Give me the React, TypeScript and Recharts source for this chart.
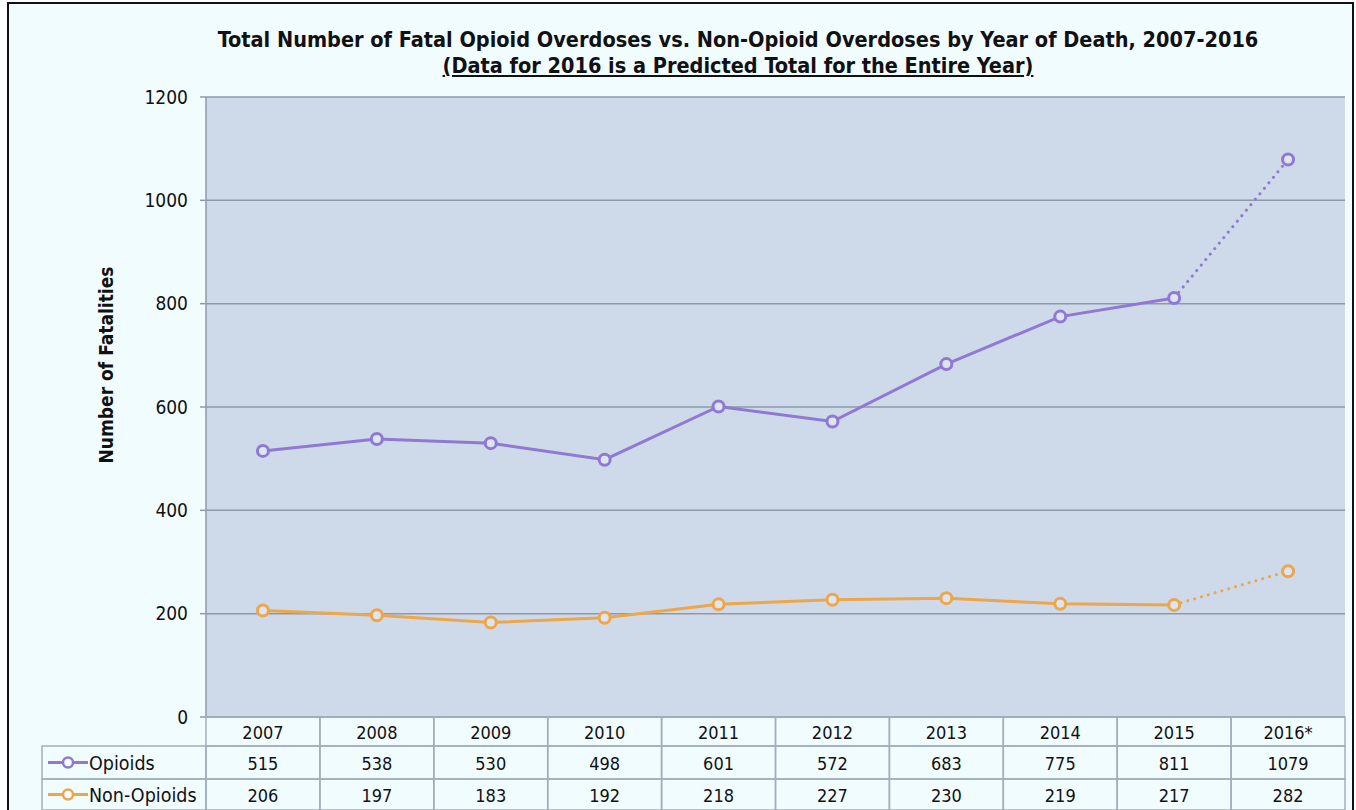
import React from 'react';
import { LineChart, Line, XAxis, YAxis, CartesianGrid } from 'recharts';

const YEARS = ['2007', '2008', '2009', '2010', '2011', '2012', '2013', '2014', '2015', '2016*'];
const OPIOIDS = [515, 538, 530, 498, 601, 572, 683, 775, 811, 1079];
const NON_OPIOIDS = [206, 197, 183, 192, 218, 227, 230, 219, 217, 282];
const Y_TICKS = [0, 200, 400, 600, 800, 1000, 1200];
const LAST_ACTUAL = 8; // 2015, 2016 is predicted

const W = 1356;
const H = 810;
const PLOT_LEFT = 206;
const PLOT_RIGHT = 1345;
const BW = (PLOT_RIGHT - PLOT_LEFT) / YEARS.length;
const LEGEND_W = 164;

const FONT = "Tahoma, 'DejaVu Sans Condensed', 'DejaVu Sans', sans-serif";
const PURPLE = '#9079D2';
const ORANGE = '#EDA64A';
const GRID = '#8E99AA';
const CELL = '#A3ADBC';
const PLOT_BG = '#CEDAEA';
const FRAME_BG = '#F1FCFF';
const TXT = 18;

const data = YEARS.map((year, i) => ({
  year,
  op: i <= LAST_ACTUAL ? OPIOIDS[i] : null,
  opPred: i >= LAST_ACTUAL ? OPIOIDS[i] : null,
  non: i <= LAST_ACTUAL ? NON_OPIOIDS[i] : null,
  nonPred: i >= LAST_ACTUAL ? NON_OPIOIDS[i] : null,
}));

// one row of the data table under the plot, drawn as axis ticks
const TableTick = (props: any) => {
  const { x, y, payload, index, values, rowH, legend, color } = props;
  const left = x - BW / 2;
  const label = values ? values[index] : payload.value;
  return (
    <g>
      <rect x={left} y={y} width={BW} height={rowH} fill="none" stroke={CELL} strokeWidth={1.5} />
      <text x={x} y={y + rowH / 2 + 1} textAnchor="middle" dominantBaseline="central"
        fontSize={TXT} fontFamily={FONT} fill="#111">{label}</text>
      {index === 0 && legend && (
        <g>
          <rect x={left - LEGEND_W} y={y} width={LEGEND_W} height={rowH} fill="none" stroke={CELL} strokeWidth={1.5} />
          <line x1={left - LEGEND_W + 6} x2={left - LEGEND_W + 46} y1={y + rowH / 2} y2={y + rowH / 2}
            stroke={color} strokeWidth={3} />
          <circle cx={left - LEGEND_W + 26} cy={y + rowH / 2} r={5} fill={FRAME_BG} stroke={color} strokeWidth={2.5} />
          <text x={left - LEGEND_W + 47} y={y + rowH / 2 + 1} dominantBaseline="central"
            fontSize={19.5} fontFamily={FONT} fill="#111">{legend}</text>
        </g>
      )}
    </g>
  );
};

const hollowDot = (color: string, only?: number) => (p: any) => {
  if (p.value == null || (only !== undefined && p.index !== only)) return <g key={p.index} />;
  return <circle key={p.index} cx={p.cx} cy={p.cy} r={5.5} fill="#DCE5F1" stroke={color} strokeWidth={3} />;
};

const YLabel = (props: any) => {
  const vb = props.viewBox;
  const cx = vb.x + 106;
  const cy = vb.y + vb.height / 2 - 42;
  return (
    <text x={cx} y={cy} transform={`rotate(-90 ${cx} ${cy})`} textAnchor="middle" dominantBaseline="central"
      fontSize={19} fontWeight="bold" fontFamily={FONT} fill="#111">Number of Fatalities</text>
  );
};

export default function App() {
  return (
    <div style={{ position: 'absolute', left: 0, top: 0, width: W, height: H, overflow: 'hidden', background: '#fff' }}>
      <div style={{ position: 'absolute', left: 7, top: 2, width: 1343, height: 840, border: '2px solid #111', background: FRAME_BG }} />
      <div style={{ position: 'absolute', left: 0, top: 27, width: 1476, textAlign: 'center', fontFamily: FONT, fontWeight: 'bold', fontSize: 21.5, lineHeight: '26px', color: '#111' }}>
        Total Number of Fatal Opioid Overdoses vs. Non-Opioid Overdoses by Year of Death, 2007-2016
      </div>
      <div style={{ position: 'absolute', left: 0, top: 53, width: 1476, textAlign: 'center', fontFamily: FONT, fontWeight: 'bold', fontSize: 21.5, lineHeight: '26px', color: '#111' }}>
        <span style={{ textDecoration: 'underline' }}>(Data for 2016 is a Predicted Total for the Entire Year)</span>
      </div>
      <div style={{ position: 'absolute', left: 0, top: 0 }}>
        <LineChart width={W} height={H} data={data} margin={{ top: 97, right: W - PLOT_RIGHT, bottom: 0, left: 0 }}>
          <CartesianGrid vertical={false} fill={PLOT_BG} stroke={GRID} strokeWidth={1.5} />
          <YAxis width={PLOT_LEFT} domain={[0, 1200]} ticks={Y_TICKS} interval={0}
            tick={{ fontSize: 19, fontFamily: FONT, fill: '#111' }}
            tickSize={6} tickMargin={12} axisLine={{ stroke: GRID, strokeWidth: 1.5 }} tickLine={{ stroke: GRID, strokeWidth: 1.5 }}
            label={{ content: <YLabel /> }} />
          <XAxis dataKey="year" height={29} padding={{ left: BW / 2, right: BW / 2 }} interval={0}
            axisLine={false} tickLine={false} tickSize={0} tickMargin={0}
            tick={<TableTick rowH={29} />} />
          <XAxis xAxisId="r1" dataKey="year" height={33} padding={{ left: BW / 2, right: BW / 2 }} interval={0}
            axisLine={false} tickLine={false} tickSize={0} tickMargin={0}
            tick={<TableTick rowH={33} values={OPIOIDS} legend="Opioids" color={PURPLE} />} />
          <XAxis xAxisId="r2" dataKey="year" height={31} padding={{ left: BW / 2, right: BW / 2 }} interval={0}
            axisLine={false} tickLine={false} tickSize={0} tickMargin={0}
            tick={<TableTick rowH={31} values={NON_OPIOIDS} legend="Non-Opioids" color={ORANGE} />} />
          <Line dataKey="opPred" stroke={PURPLE} strokeWidth={3} strokeDasharray="0.1 7" strokeLinecap="round"
            dot={hollowDot(PURPLE, YEARS.length - 1)} activeDot={false} isAnimationActive={false} connectNulls={false} />
          <Line dataKey="nonPred" stroke={ORANGE} strokeWidth={3} strokeDasharray="0.1 7" strokeLinecap="round"
            dot={hollowDot(ORANGE, YEARS.length - 1)} activeDot={false} isAnimationActive={false} connectNulls={false} />
          <Line dataKey="op" stroke={PURPLE} strokeWidth={3} dot={hollowDot(PURPLE)} activeDot={false} isAnimationActive={false} />
          <Line dataKey="non" stroke={ORANGE} strokeWidth={3} dot={hollowDot(ORANGE)} activeDot={false} isAnimationActive={false} />
        </LineChart>
      </div>
    </div>
  );
}
